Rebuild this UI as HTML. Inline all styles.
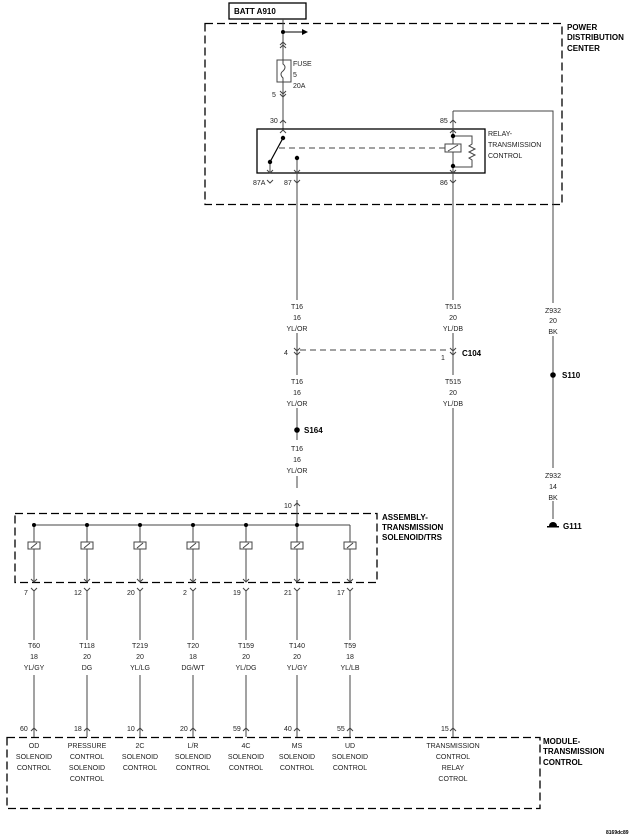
<!DOCTYPE html>
<html><head><meta charset="utf-8"><style>
html,body{margin:0;padding:0;background:#fff}
svg{display:block}
text{font-family:"Liberation Sans",sans-serif;font-size:7px;fill:#222}
.b{font-weight:bold;font-size:8px;fill:#000}
.c{text-anchor:middle}
</style></head><body>
<svg width="640" height="838" viewBox="0 0 640 838" xmlns="http://www.w3.org/2000/svg">
<g fill="none" stroke="#444" stroke-width="1">
<!-- dashed boxes -->
<rect x="205" y="23.5" width="357" height="181" stroke="#000" stroke-width="1.3" stroke-dasharray="8,4"/>
<rect x="15" y="513.5" width="362" height="69" stroke="#000" stroke-width="1.3" stroke-dasharray="8,4"/>
<rect x="7" y="737.5" width="533" height="71" stroke="#000" stroke-width="1.3" stroke-dasharray="8,4"/>
<!-- BATT box -->
<rect x="229" y="3" width="77" height="16" stroke="#000" stroke-width="1.3"/>
<!-- main feed -->
<line x1="283" y1="19" x2="283" y2="129"/>
<line x1="283" y1="32" x2="302" y2="32" stroke="#000"/>
<rect x="277" y="60" width="14" height="22" fill="#fff"/>
<path d="M283 60 v4 q4 3 0 7 q-4 3 0 7 v4"/>
<path d="M280 45 l3 -3 3 3 M280 48 l3 -3 3 3"/>
<path d="M280 91 l3 3 3 -3 M280 94 l3 3 3 -3"/>
<path d="M280 123 l3 -3 3 3"/>
<!-- relay -->
<rect x="257" y="129" width="228" height="44" stroke="#000" stroke-width="1.3"/>
<path d="M280 133 l3 -3 3 3"/>
<line x1="283" y1="138" x2="270" y2="162" stroke="#000" stroke-width="1.2"/>
<line x1="270" y1="162" x2="270" y2="173"/>
<path d="M267 170 l3 3 3 -3"/>
<line x1="297" y1="158" x2="297" y2="173"/>
<path d="M294 170 l3 3 3 -3"/>
<line x1="279" y1="148" x2="445" y2="148" stroke-dasharray="6,4"/>
<line x1="453" y1="111" x2="453" y2="173"/>
<path d="M450 123 l3 -3 3 3 M450 133 l3 -3 3 3 M450 170 l3 3 3 -3"/>
<rect x="445" y="144" width="16" height="8" fill="#fff"/>
<line x1="448" y1="151" x2="458" y2="145"/>
<path d="M453 136 h19 v8 l-3 2 6 3 -6 3 6 3 -6 3 3 2 v7 h-19"/>
<path d="M267 180 l3 3 3 -3 M294 180 l3 3 3 -3 M450 180 l3 3 3 -3"/>
<!-- Z932 -->
<path d="M453 111 H553 V519"/>
<!-- T16 -->
<line x1="297" y1="173" x2="297" y2="300"/>
<line x1="297" y1="333" x2="297" y2="375"/>
<line x1="297" y1="408" x2="297" y2="440"/>
<line x1="297" y1="476" x2="297" y2="488"/>
<line x1="297" y1="500" x2="297" y2="582"/>
<path d="M294 348 l3 3 3 -3 M294 352 l3 3 3 -3"/>
<path d="M294 506 l3 -3 3 3"/>
<!-- T515 -->
<line x1="453" y1="173" x2="453" y2="300"/>
<line x1="453" y1="333" x2="453" y2="375"/>
<line x1="453" y1="408" x2="453" y2="737"/>
<path d="M450 348 l3 3 3 -3 M450 352 l3 3 3 -3"/>
<line x1="300" y1="350" x2="448" y2="350" stroke-dasharray="6,4"/>
<path d="M450 731 l3 -3 3 3"/>
<!-- Z932 label gaps cover -->
<!-- bus -->
<line x1="34" y1="525" x2="350" y2="525"/>
</g>
<g fill="#fff" stroke="none">
<rect x="540" y="303" width="26" height="33"/>
<rect x="540" y="468" width="26" height="33"/>
</g>
<g fill="#000">
<circle cx="283" cy="32" r="2"/>
<path d="M302 29 l6 3 -6 3z"/>
<circle cx="283" cy="138" r="2.2"/><circle cx="270" cy="162" r="2.2"/><circle cx="297" cy="158" r="2.2"/>
<circle cx="453" cy="136" r="2.2"/><circle cx="453" cy="166" r="2.2"/>
<circle cx="297" cy="430" r="2.8"/>
<circle cx="553" cy="375" r="2.8"/>
<path d="M549 526 a4 4 0 0 1 8 0z"/>
<rect x="547" y="526" width="12" height="1.5"/>
</g>
<!-- solenoid columns -->
<g fill="none" stroke="#444">
<g id="s"><line x1="34" y1="525" x2="34" y2="582"/><rect x="28" y="542" width="12" height="7" fill="#fff"/><line x1="31" y1="548" x2="37" y2="543"/><path d="M31 579 l3 3 3 -3 M31 588 l3 3 3 -3"/><line x1="34" y1="591" x2="34" y2="640"/><line x1="34" y1="675" x2="34" y2="737"/><path d="M31 731 l3 -3 3 3"/></g>
<use href="#s" x="53"/><use href="#s" x="106"/><use href="#s" x="159"/><use href="#s" x="212"/><use href="#s" x="263"/><use href="#s" x="316"/>
</g>
<g fill="#000"><circle cx="34" cy="525" r="2"/><circle cx="87" cy="525" r="2"/><circle cx="140" cy="525" r="2"/><circle cx="193" cy="525" r="2"/><circle cx="246" cy="525" r="2"/><circle cx="297" cy="525" r="2"/></g>
<!-- bold labels -->
<text class="b" x="234" y="14">BATT A910</text>
<text class="b" x="567" y="30">POWER</text><text class="b" x="567" y="40">DISTRIBUTION</text><text class="b" x="567" y="51">CENTER</text>
<text class="b" x="462" y="356">C104</text>
<text class="b" x="304" y="433">S164</text>
<text class="b" x="562" y="378">S110</text>
<text class="b" x="563" y="529">G111</text>
<text class="b" x="382" y="520">ASSEMBLY-</text><text class="b" x="382" y="530">TRANSMISSION</text><text class="b" x="382" y="540">SOLENOID/TRS</text>
<text class="b" x="543" y="744">MODULE-</text><text class="b" x="543" y="754">TRANSMISSION</text><text class="b" x="543" y="765">CONTROL</text>
<text class="b" x="606" y="834" style="font-size:5px">8169dc89</text>
<!-- small labels -->
<text x="293" y="66">FUSE</text><text x="293" y="77">5</text><text x="293" y="88">20A</text>
<text x="272" y="97">5</text><text x="270" y="123">30</text><text x="440" y="123">85</text>
<text x="253" y="185">87A</text><text x="284" y="185">87</text><text x="440" y="185">86</text>
<text x="488" y="136">RELAY-</text><text x="488" y="147">TRANSMISSION</text><text x="488" y="158">CONTROL</text>
<g class="c">
<text x="297" y="309">T16</text><text x="297" y="320">16</text><text x="297" y="331">YL/OR</text>
<text x="297" y="384">T16</text><text x="297" y="395">16</text><text x="297" y="406">YL/OR</text>
<text x="297" y="451">T16</text><text x="297" y="462">16</text><text x="297" y="473">YL/OR</text>
<text x="453" y="309">T515</text><text x="453" y="320">20</text><text x="453" y="331">YL/DB</text>
<text x="453" y="384">T515</text><text x="453" y="395">20</text><text x="453" y="406">YL/DB</text>
<text x="553" y="313">Z932</text><text x="553" y="323">20</text><text x="553" y="334">BK</text>
<text x="553" y="478">Z932</text><text x="553" y="489">14</text><text x="553" y="500">BK</text>
</g>
<text x="284" y="355">4</text><text x="441" y="360">1</text><text x="284" y="508">10</text>
<g>
<text x="24" y="595">7</text><text x="74" y="595">12</text><text x="127" y="595">20</text><text x="183" y="595">2</text><text x="233" y="595">19</text><text x="284" y="595">21</text><text x="337" y="595">17</text>
<text x="20" y="731">60</text><text x="74" y="731">18</text><text x="127" y="731">10</text><text x="180" y="731">20</text><text x="233" y="731">59</text><text x="284" y="731">40</text><text x="337" y="731">55</text><text x="441" y="731">15</text>
</g>
<g class="c">
<text x="34" y="648">T60</text><text x="34" y="659">18</text><text x="34" y="670">YL/GY</text>
<text x="87" y="648">T118</text><text x="87" y="659">20</text><text x="87" y="670">DG</text>
<text x="140" y="648">T219</text><text x="140" y="659">20</text><text x="140" y="670">YL/LG</text>
<text x="193" y="648">T20</text><text x="193" y="659">18</text><text x="193" y="670">DG/WT</text>
<text x="246" y="648">T159</text><text x="246" y="659">20</text><text x="246" y="670">YL/DG</text>
<text x="297" y="648">T140</text><text x="297" y="659">20</text><text x="297" y="670">YL/GY</text>
<text x="350" y="648">T59</text><text x="350" y="659">18</text><text x="350" y="670">YL/LB</text>
<text x="34" y="748">OD</text><text x="34" y="759">SOLENOID</text><text x="34" y="770">CONTROL</text>
<text x="87" y="748">PRESSURE</text><text x="87" y="759">CONTROL</text><text x="87" y="770">SOLENOID</text><text x="87" y="781">CONTROL</text>
<text x="140" y="748">2C</text><text x="140" y="759">SOLENOID</text><text x="140" y="770">CONTROL</text>
<text x="193" y="748">L/R</text><text x="193" y="759">SOLENOID</text><text x="193" y="770">CONTROL</text>
<text x="246" y="748">4C</text><text x="246" y="759">SOLENOID</text><text x="246" y="770">CONTROL</text>
<text x="297" y="748">MS</text><text x="297" y="759">SOLENOID</text><text x="297" y="770">CONTROL</text>
<text x="350" y="748">UD</text><text x="350" y="759">SOLENOID</text><text x="350" y="770">CONTROL</text>
<text x="453" y="748">TRANSMISSION</text><text x="453" y="759">CONTROL</text><text x="453" y="770">RELAY</text><text x="453" y="781">COTROL</text>
</g>
</svg>
</body></html>
